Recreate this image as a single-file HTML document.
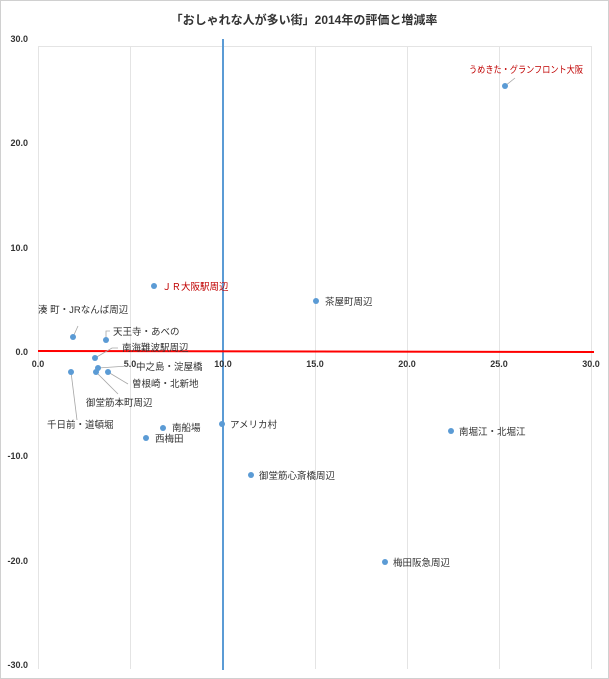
<!DOCTYPE html>
<html><head><meta charset="utf-8"><style>
html,body{margin:0;padding:0;background:#fff;}
svg{display:block;font-family:"Liberation Sans","Noto Sans CJK JP",sans-serif;}
</style></head><body>
<svg width="609" height="679" viewBox="0 0 609 679">
<rect x="0.5" y="0.5" width="608" height="678" fill="#fff" stroke="#d0d0d0"/>
<text x="304" y="24" text-anchor="middle" font-size="12" font-weight="bold" fill="#333">「おしゃれな人が多い街」2014年の評価と増減率</text>
<g stroke="#e4e4e4" stroke-width="1">
<line x1="38.5" y1="46" x2="38.5" y2="669"/>
<line x1="130.5" y1="46" x2="130.5" y2="669"/>
<line x1="315.5" y1="46" x2="315.5" y2="669"/>
<line x1="407.5" y1="46" x2="407.5" y2="669"/>
<line x1="499.5" y1="46" x2="499.5" y2="669"/>
<line x1="591.5" y1="46" x2="591.5" y2="669"/>
<line x1="38" y1="46.5" x2="592" y2="46.5"/>
</g>
<line x1="223" y1="39" x2="223" y2="670" stroke="#5b9bd5" stroke-width="2"/>
<line x1="38" y1="351" x2="594" y2="352" stroke="#ff0000" stroke-width="2"/>
<g font-size="9" font-weight="bold" fill="#333" text-anchor="end">
<text x="28" y="42">30.0</text>
<text x="28" y="146">20.0</text>
<text x="28" y="251">10.0</text>
<text x="28" y="355">0.0</text>
<text x="28" y="459">-10.0</text>
<text x="28" y="564">-20.0</text>
<text x="28" y="668">-30.0</text>
</g>
<g font-size="9" font-weight="bold" fill="#333" text-anchor="middle">
<text x="38" y="367">0.0</text>
<text x="130" y="367">5.0</text>
<text x="223" y="367">10.0</text>
<text x="315" y="367">15.0</text>
<text x="407" y="367">20.0</text>
<text x="499" y="367">25.0</text>
<text x="591" y="367">30.0</text>
</g>
<g stroke="#a6a6a6" stroke-width="0.8" fill="none">
<polyline points="505,86 515,78"/>
<polyline points="73,337 78,326"/>
<polyline points="106,340 106,331 110,331"/>
<polyline points="95,358 112,348 118,348"/>
<polyline points="98,368 128,366"/>
<polyline points="108,372 128,384"/>
<polyline points="96,372 118,394"/>
<polyline points="71,372 77,420"/>
</g>
<g fill="#5b9bd5">
<circle cx="505" cy="86" r="3"/>
<circle cx="154" cy="286" r="3"/>
<circle cx="316" cy="301" r="3"/>
<circle cx="73" cy="337" r="3"/>
<circle cx="106" cy="340" r="3"/>
<circle cx="95" cy="358" r="3"/>
<circle cx="98" cy="368" r="3"/>
<circle cx="108" cy="372" r="3"/>
<circle cx="96" cy="372" r="3"/>
<circle cx="71" cy="372" r="3"/>
<circle cx="163" cy="428" r="3"/>
<circle cx="146" cy="438" r="3"/>
<circle cx="222" cy="424" r="3"/>
<circle cx="451" cy="431" r="3"/>
<circle cx="251" cy="475" r="3"/>
<circle cx="385" cy="562" r="3"/>
</g>
<g font-size="9.5" fill="#333">
<text x="469" y="73" fill="#c00000" textLength="114" lengthAdjust="spacingAndGlyphs">うめきた・グランフロント大阪</text>
<text x="162" y="290" fill="#c00000">ＪＲ大阪駅周辺</text>
<text x="325" y="305">茶屋町周辺</text>
<text x="38" y="313">湊 町・JRなんば周辺</text>
<text x="113" y="335">天王寺・あべの</text>
<text x="122" y="351">南海難波駅周辺</text>
<text x="136" y="370">中之島・淀屋橋</text>
<text x="132" y="387">曽根崎・北新地</text>
<text x="86" y="406">御堂筋本町周辺</text>
<text x="47" y="428">千日前・道頓堀</text>
<text x="172" y="431">南船場</text>
<text x="155" y="442">西梅田</text>
<text x="230" y="428">アメリカ村</text>
<text x="459" y="435">南堀江・北堀江</text>
<text x="259" y="479">御堂筋心斎橋周辺</text>
<text x="393" y="566">梅田阪急周辺</text>
</g>
</svg>
</body></html>
